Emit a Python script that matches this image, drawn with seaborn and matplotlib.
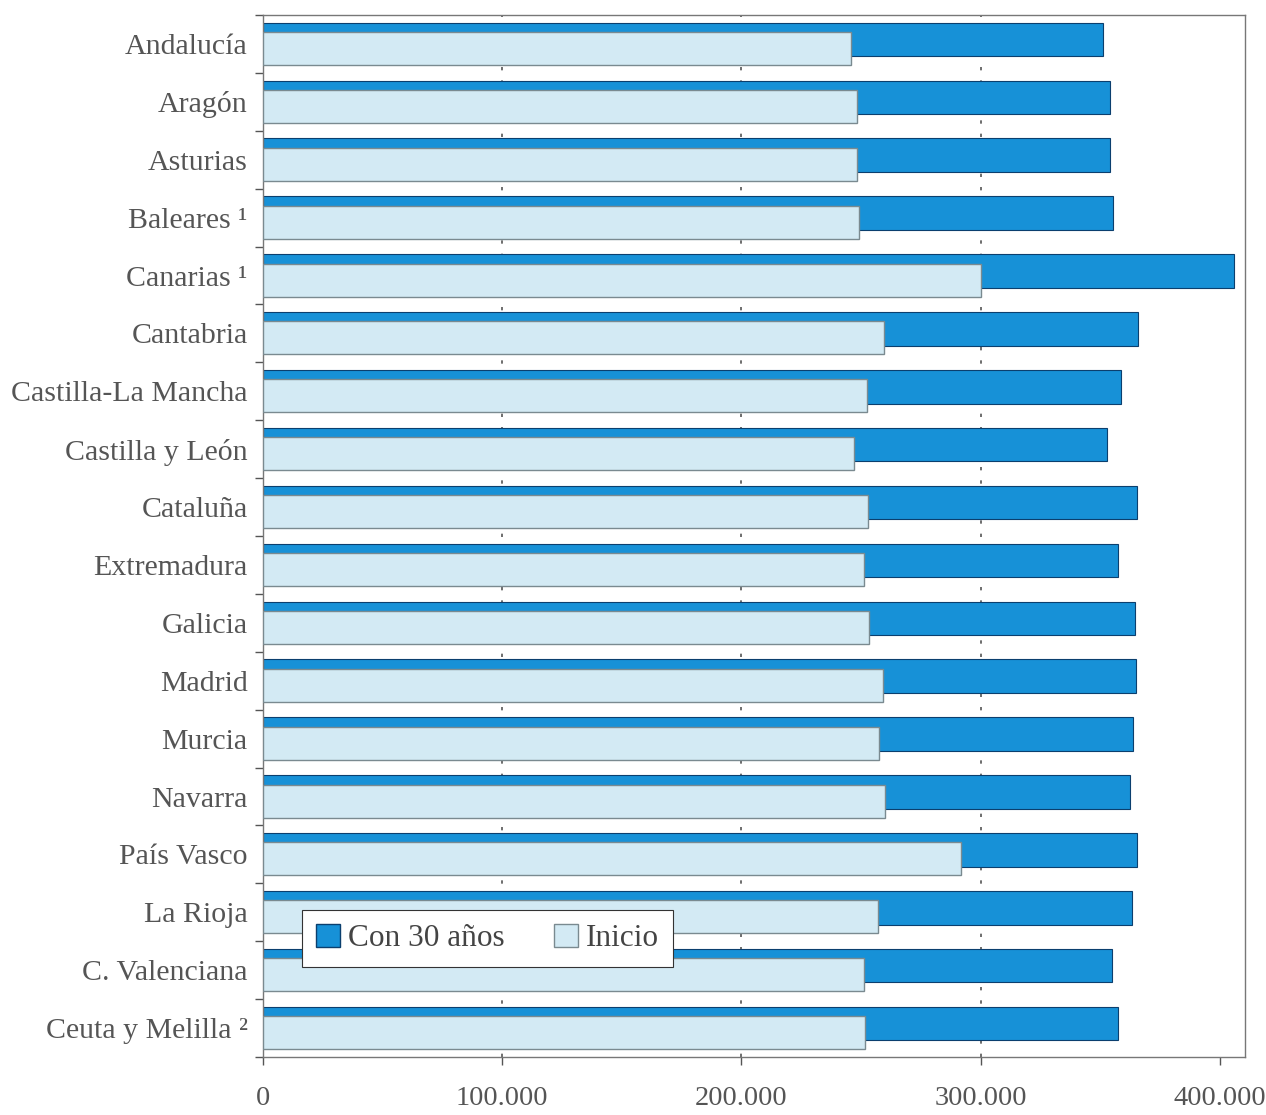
import matplotlib
matplotlib.use("Agg")
import matplotlib.pyplot as plt
import seaborn as sns
import numpy as np
import pandas as pd
from matplotlib.ticker import FuncFormatter, FixedLocator
from matplotlib.patches import Patch

regions = ["Andalucía", "Aragón", "Asturias", "Baleares ¹", "Canarias ¹", "Cantabria",
           "Castilla-La Mancha", "Castilla y León", "Cataluña", "Extremadura", "Galicia",
           "Madrid", "Murcia", "Navarra", "País Vasco", "La Rioja", "C. Valenciana",
           "Ceuta y Melilla ²"]
con_30 = [351000, 354000, 354000, 355200, 405800, 365600, 358500, 352700, 365200,
          357300, 364400, 364800, 363600, 362300, 365200, 363100, 354800, 357300]
inicio = [245700, 248200, 248200, 249100, 300000, 259500, 252400, 247000, 252800,
          251200, 253200, 259100, 257400, 259900, 291700, 257000, 251200, 251600]
xticks = [0, 100000, 200000, 300000, 400000]

sns.set_theme(style="white")
plt.rcParams["font.family"] = ["Liberation Serif", "DejaVu Serif"]

DARK = "#1791D7"
LIGHT = "#D3EAF4"
TXT = "#555555"

fig = plt.figure(figsize=(12.66, 11.15), dpi=100)
ax = fig.add_axes([263 / 1266, 1 - 1057 / 1115, (1245 - 263) / 1266, (1057 - 15) / 1115])

idx = np.arange(len(regions))
off = 0.078
df_dark = pd.DataFrame({"v": con_30, "pos": idx - off})
df_light = pd.DataFrame({"v": inicio, "pos": idx + off})

sns.barplot(data=df_dark, x="v", y="pos", orient="h", native_scale=True, width=0.58,
            color=DARK, saturation=1, edgecolor="#0B3F6E", linewidth=0.8, ax=ax, zorder=2)
sns.barplot(data=df_light, x="v", y="pos", orient="h", native_scale=True, width=0.57,
            color=LIGHT, saturation=1, edgecolor="#7A8A90", linewidth=1.0, ax=ax, zorder=3)

ax.set_xlim(0, 410500)
ax.set_ylim(len(regions) - 0.5, -0.5)
ax.set_xlabel("")
ax.set_ylabel("")

ax.xaxis.set_major_locator(FixedLocator(xticks))
ax.xaxis.set_major_formatter(FuncFormatter(lambda v, p: f"{int(v):,}".replace(",", ".")))
ax.yaxis.set_major_locator(FixedLocator(idx))
ax.set_yticklabels(regions)
ax.yaxis.set_minor_locator(FixedLocator(np.arange(-0.5, len(regions), 1.0)))

ax.tick_params(axis="y", which="major", length=0, pad=11, labelsize=21.5, labelcolor=TXT)
ax.tick_params(axis="y", which="minor", length=6, width=1.0, color="#555555", left=True)
ax.tick_params(axis="x", which="major", length=6, width=1.0, color="#555555", bottom=True,
               pad=15, labelsize=20.5, labelcolor=TXT)

ax.grid(axis="x", color="#555555", linewidth=1.2, linestyle=(0, (2, 6)), zorder=1)
ax.get_xgridlines()[-1].set_visible(False)
ax.set_axisbelow(True)

for s in ax.spines.values():
    s.set_visible(True)
    s.set_color("#777777")
    s.set_linewidth(1.0)

handles = [Patch(facecolor=DARK, edgecolor="#0B3F6E", label="Con 30 años"),
           Patch(facecolor=LIGHT, edgecolor="#7A8A90", label="Inicio")]
leg = ax.legend(handles=handles, loc="lower left", bbox_to_anchor=(0.04, 0.086), ncol=2,
                frameon=True, fancybox=False, edgecolor="#333333", framealpha=1,
                fontsize=22.5, handlelength=0.75, handleheight=0.75, handletextpad=0.25,
                columnspacing=1.6, borderpad=0.45, borderaxespad=0, labelcolor="#444444")
leg.get_frame().set_linewidth(0.8)
leg.set_zorder(10)

fig.savefig("out.png", dpi=100)
